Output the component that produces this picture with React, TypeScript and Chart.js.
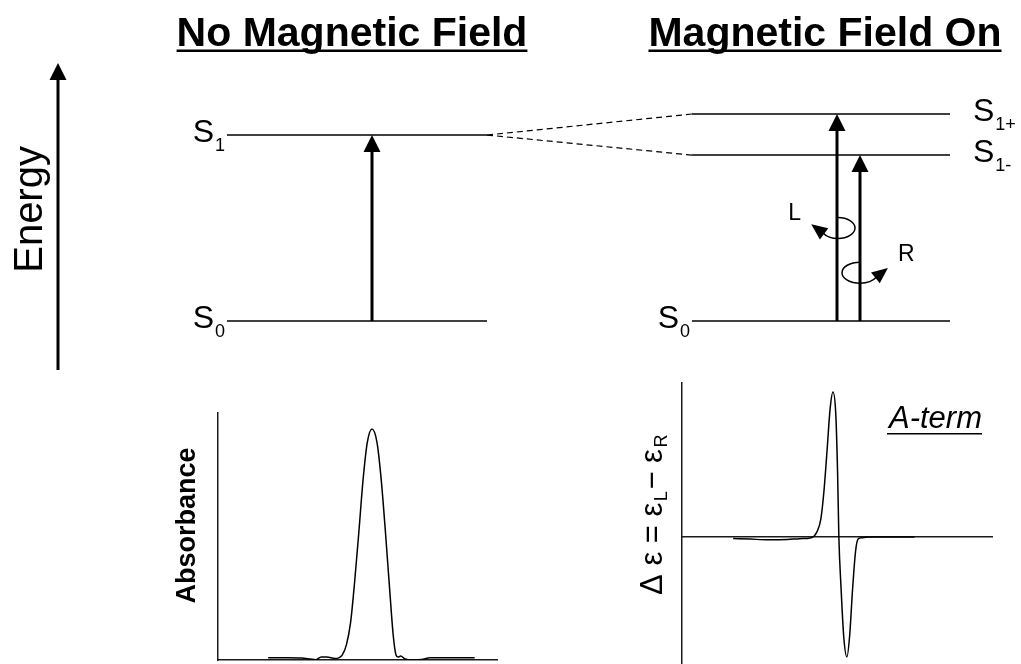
import React, { useEffect, useRef } from "react";
import { Chart, registerables } from "chart.js";

Chart.register(...registerables);

const FONT = '"Liberation Sans", Arial, Helvetica, sans-serif';

// ---------------- Energy-level diagram (top) ----------------
const panelTitles = ["No Magnetic Field", "Magnetic Field On"];
const panelTitleX = [352, 825];

// energy levels (energy in units of the S0 -> S1 gap)
const levelMain = ["S", "S", "S", "S", "S"];
const levelSub = ["1", "0", "1+", "1-", "0"];
const levelEnergy = [1, 0, 1.113, 0.892, 0];
const levelXStart = [227, 227, 692, 692, 692];
const levelXEnd = [487, 487, 950, 950, 950];
const levelLabelSide = ["left", "left", "right", "right", "left"];

// Zeeman splitting: S1 (no field) -> S1+ and S1-
const splitFromLevel = 0;
const splitToLevels = [2, 3];

// absorption transitions (vertical arrows)
const transitionX = [372, 837, 860];
const transitionFrom = [0, 0, 0];
const transitionTo = [1, 1.113, 0.892];

// energy axis arrow
const energyAxisX = 58;
const energyAxisFrom = -0.263;
const energyAxisTo = 1.387;
const energyLabelE = 0.6;

// circular polarisation markers
const polLabels = ["L", "R"];
const polX = [838, 860];
const polE = [0.5, 0.26];

// ---------------- Absorbance spectrum (bottom left) ----------------
const absTitle = "Absorbance";
const absX = [18, 25, 30, 33, 35, 37, 39, 42, 44.5, 46, 47.5, 49, 50.5, 52, 53.5, 55.2, 57, 58.5, 60, 61.5, 62.8, 63.8, 64.5, 65.5, 67, 70, 73, 76, 85, 92];
const absY = [0.009, 0.009, 0.008, 0.004, 0.001, 0.012, 0.012, 0.006, 0.02, 0.06, 0.15, 0.32, 0.52, 0.73, 0.88, 0.935, 0.88, 0.73, 0.52, 0.29, 0.1, 0.02, 0.012, 0.016, 0.004, 0.0, 0.002, 0.009, 0.009, 0.009];

// ---------------- MCD A-term spectrum (bottom right) ----------------
const mcdX = [16.5, 22, 28, 34, 38, 40.5, 42.3, 43.6, 44.8, 45.8, 46.8, 47.8, 48.7, 49.6, 50.2, 50.6, 51.3, 52.2, 53.2, 54.1, 55.0, 56.0, 56.8, 58, 60, 75];
const mcdY = [-0.01, -0.015, -0.02, -0.018, -0.012, -0.01, 0, 0.04, 0.13, 0.33, 0.62, 0.92, 1.036, 0.88, 0.45, 0.0, -0.36, -0.72, -0.857, -0.7, -0.38, -0.1, -0.015, -0.005, 0, 0];
const mcdTermLabel = "A-term";

const HEAD_E = 0.07;

function arrowHead(ctx: any, tipX: number, tipY: number, dx: number, dy: number, len: number, width: number) {
  const n = Math.hypot(dx, dy);
  const ux = dx / n, uy = dy / n;
  const bx = tipX - ux * len, by = tipY - uy * len;
  const px = -uy, py = ux;
  ctx.beginPath();
  ctx.moveTo(tipX, tipY);
  ctx.lineTo(bx + (px * width) / 2, by + (py * width) / 2);
  ctx.lineTo(bx - (px * width) / 2, by - (py * width) / 2);
  ctx.closePath();
  ctx.fill();
}

function seg(pts: any[], width: number, dash: number[] = []) {
  return {
    data: pts,
    showLine: true,
    borderColor: "#000",
    borderWidth: width,
    borderDash: dash,
    pointRadius: 0,
    fill: false,
    tension: 0,
  };
}

const diagramPlugin = {
  id: "diagram",
  afterDatasetsDraw(chart: any) {
    const { ctx } = chart;
    const xs = chart.scales.x, ys = chart.scales.y;
    const X = (v: number) => xs.getPixelForValue(v);
    const Y = (v: number) => ys.getPixelForValue(v);
    ctx.save();
    ctx.fillStyle = "#000";
    ctx.strokeStyle = "#000";

    // panel titles (bold, underlined)
    ctx.font = `bold 41px ${FONT}`;
    ctx.textAlign = "center";
    ctx.textBaseline = "alphabetic";
    panelTitles.forEach((t, i) => {
      const cx = X(panelTitleX[i]);
      ctx.fillText(t, cx, 46);
      const w = ctx.measureText(t).width;
      ctx.fillRect(cx - w / 2, 49.5, w, 2.5);
    });

    // arrowheads of the transitions
    transitionX.forEach((tx, i) => {
      arrowHead(ctx, X(tx), Y(transitionTo[i]), 0, -1, 17, 17);
    });
    // energy axis arrowhead
    arrowHead(ctx, X(energyAxisX), Y(energyAxisTo), 0, -1, 17, 17);

    // Energy label
    ctx.save();
    ctx.translate(X(energyAxisX) - 16, Y(energyLabelE));
    ctx.rotate(-Math.PI / 2);
    ctx.font = `40px ${FONT}`;
    ctx.textAlign = "center";
    ctx.fillText("Energy", 0, 0);
    ctx.restore();

    // level labels S with subscripts
    ctx.textAlign = "left";
    levelMain.forEach((m, i) => {
      const y = Y(levelEnergy[i]);
      ctx.font = `32px ${FONT}`;
      const wm = ctx.measureText(m).width;
      ctx.font = `18px ${FONT}`;
      const ws = ctx.measureText(levelSub[i]).width;
      const x0 = levelLabelSide[i] === "left" ? X(levelXStart[i]) - 3 - wm - ws : X(levelXEnd[i]) + 23;
      ctx.font = `32px ${FONT}`;
      ctx.fillText(m, x0, y + 7);
      ctx.font = `18px ${FONT}`;
      ctx.fillText(levelSub[i], x0 + wm + 1, y + 16);
    });

    // circular polarisation loops
    ctx.lineWidth = 1.5;
    // L : clockwise loop, arrow to the upper left
    {
      const cx = X(polX[0]), cy = Y(polE[0]);
      const rx = 17, ry = 10.5, end = (150 * Math.PI) / 180;
      ctx.beginPath();
      ctx.ellipse(cx, cy, rx, ry, 0, -Math.PI / 2, end, false);
      ctx.stroke();
      const bx = cx + rx * Math.cos(end), by = cy + ry * Math.sin(end);
      const d = Math.hypot(1, 0.75);
      arrowHead(ctx, bx - 15 / d, by - (15 * 0.75) / d, -1, -0.75, 16, 14);
      ctx.font = `23px ${FONT}`;
      ctx.textAlign = "right";
      ctx.fillText(polLabels[0], cx - 37, cy - 8);
    }
    // R : anticlockwise loop, arrow to the upper right
    {
      const cx = X(polX[1]), cy = Y(polE[1]);
      const rx = 18, ry = 10.5, end = (26 * Math.PI) / 180;
      ctx.beginPath();
      ctx.ellipse(cx, cy, rx, ry, 0, -Math.PI / 2, end, true);
      ctx.stroke();
      const bx = cx + rx * Math.cos(end), by = cy + ry * Math.sin(end);
      const d = Math.hypot(1, 0.8);
      arrowHead(ctx, bx + 15 / d, by - (15 * 0.8) / d, 1, -0.8, 16, 14);
      ctx.font = `23px ${FONT}`;
      ctx.textAlign = "left";
      ctx.fillText(polLabels[1], cx + 38, cy - 12);
    }
    ctx.restore();
  },
};

function topConfig(): any {
  const datasets: any[] = [];
  levelEnergy.forEach((e, i) => {
    datasets.push(seg([{ x: levelXStart[i], y: e }, { x: levelXEnd[i], y: e }], 1.5));
  });
  splitToLevels.forEach((j) => {
    datasets.push(
      seg(
        [
          { x: levelXEnd[splitFromLevel], y: levelEnergy[splitFromLevel] },
          { x: levelXStart[j], y: levelEnergy[j] },
        ],
        1.2,
        [6, 4]
      )
    );
  });
  transitionX.forEach((tx, i) => {
    datasets.push(seg([{ x: tx, y: transitionFrom[i] }, { x: tx, y: transitionTo[i] - HEAD_E }], 3));
  });
  datasets.push(seg([{ x: energyAxisX, y: energyAxisFrom }, { x: energyAxisX, y: energyAxisTo - HEAD_E }], 3));
  return {
    type: "scatter",
    data: { datasets },
    options: {
      animation: false,
      responsive: false,
      devicePixelRatio: 1,
      events: [],
      layout: { padding: 0 },
      plugins: { legend: { display: false }, tooltip: { enabled: false }, title: { display: false } },
      scales: {
        x: { type: "linear", display: false, min: 0, max: 1021 },
        y: { type: "linear", display: false, min: -1.844, max: 1.726 },
      },
    },
    plugins: [diagramPlugin],
  };
}

const hiddenTicks = { display: false };
const noGrid = { display: false, drawTicks: false };
const axisBorder = { display: true, color: "#1a1a1a", width: 1.5 };

const absLabelPlugin = {
  id: "absLabel",
  afterDraw(chart: any) {
    const { ctx, chartArea } = chart;
    ctx.save();
    ctx.fillStyle = "#000";
    ctx.translate(chartArea.left - 23, (chartArea.top + chartArea.bottom) / 2 - 11);
    ctx.rotate(-Math.PI / 2);
    ctx.font = `bold 27px ${FONT}`;
    ctx.textAlign = "center";
    ctx.textBaseline = "alphabetic";
    ctx.fillText(absTitle, 0, 0);
    ctx.restore();
  },
};

function absConfig(): any {
  return {
    type: "scatter",
    data: {
      datasets: [
        {
          data: absX.map((x, i) => ({ x, y: absY[i] })),
          showLine: true,
          borderColor: "#000",
          borderWidth: 1.5,
          pointRadius: 0,
          cubicInterpolationMode: "monotone",
          fill: false,
        },
      ],
    },
    options: {
      animation: false,
      responsive: false,
      devicePixelRatio: 1,
      events: [],
      layout: { padding: { left: 68, right: 13, top: 13, bottom: 4 } },
      plugins: { legend: { display: false }, tooltip: { enabled: false } },
      scales: {
        x: { type: "linear", min: 0, max: 100, ticks: hiddenTicks, grid: noGrid, border: axisBorder },
        y: { type: "linear", min: 0, max: 1, ticks: hiddenTicks, grid: noGrid, border: axisBorder },
      },
    },
    plugins: [absLabelPlugin],
  };
}

const mcdLabelPlugin = {
  id: "mcdLabels",
  afterDraw(chart: any) {
    const { ctx, chartArea } = chart;
    ctx.save();
    ctx.fillStyle = "#000";
    // y-axis label with subscripts
    const parts = [
      { t: "\u0394 \u03B5 = \u03B5", sub: false },
      { t: "L", sub: true },
      { t: "\u2212 \u03B5", sub: false },
      { t: "R", sub: true },
    ];
    const mainFont = `31px ${FONT}`;
    const subFont = `18px ${FONT}`;
    let total = 0;
    parts.forEach((p) => {
      ctx.font = p.sub ? subFont : mainFont;
      total += ctx.measureText(p.t).width + (p.sub ? 3 : 0);
    });
    ctx.translate(chartArea.left - 20, (chartArea.top + chartArea.bottom) / 2 - 9);
    ctx.rotate(-Math.PI / 2);
    ctx.textAlign = "left";
    ctx.textBaseline = "alphabetic";
    let x = -total / 2;
    parts.forEach((p) => {
      ctx.font = p.sub ? subFont : mainFont;
      ctx.fillText(p.t, x + (p.sub ? 1.5 : 0), p.sub ? 5 : 0);
      x += ctx.measureText(p.t).width + (p.sub ? 3 : 0);
    });
    ctx.restore();

    // A-term label
    ctx.save();
    ctx.fillStyle = "#000";
    ctx.font = `italic 31px ${FONT}`;
    ctx.textAlign = "right";
    const bx = chartArea.right - 10, by = chartArea.top + 45;
    ctx.fillText(mcdTermLabel, bx, by);
    const w = ctx.measureText(mcdTermLabel).width;
    ctx.fillRect(bx - w - 2, by + 5, w + 2, 1.5);
    ctx.restore();
  },
};

function mcdConfig(): any {
  return {
    type: "scatter",
    data: {
      datasets: [
        {
          data: mcdX.map((x, i) => ({ x, y: mcdY[i] })),
          showLine: true,
          borderColor: "#000",
          borderWidth: 1.5,
          pointRadius: 0,
          cubicInterpolationMode: "monotone",
          fill: false,
        },
      ],
    },
    options: {
      animation: false,
      responsive: false,
      devicePixelRatio: 1,
      events: [],
      layout: { padding: { left: 82, right: 29, top: 8, bottom: 1 } },
      plugins: { legend: { display: false }, tooltip: { enabled: false } },
      scales: {
        x: { type: "linear", min: 0, max: 100, position: { y: 0 }, ticks: hiddenTicks, grid: noGrid, border: axisBorder },
        y: { type: "linear", min: -0.9, max: 1.1, ticks: hiddenTicks, grid: noGrid, border: axisBorder },
      },
    },
    plugins: [mcdLabelPlugin],
  };
}

export default function App() {
  const topRef = useRef<HTMLCanvasElement>(null);
  const absRef = useRef<HTMLCanvasElement>(null);
  const mcdRef = useRef<HTMLCanvasElement>(null);

  useEffect(() => {
    const charts = [
      new Chart(topRef.current as any, topConfig()),
      new Chart(absRef.current as any, absConfig()),
      new Chart(mcdRef.current as any, mcdConfig()),
    ];
    return () => charts.forEach((c) => c.destroy());
  }, []);

  return (
    <div style={{ position: "fixed", left: 0, top: 0, width: 1021, height: 664, background: "#fff", overflow: "hidden" }}>
      <canvas ref={topRef} width={1021} height={664} style={{ position: "absolute", left: 0, top: 0 }} />
      <canvas ref={absRef} width={360} height={264} style={{ position: "absolute", left: 150, top: 400 }} />
      <canvas ref={mcdRef} width={421} height={289} style={{ position: "absolute", left: 600, top: 375 }} />
    </div>
  );
}
